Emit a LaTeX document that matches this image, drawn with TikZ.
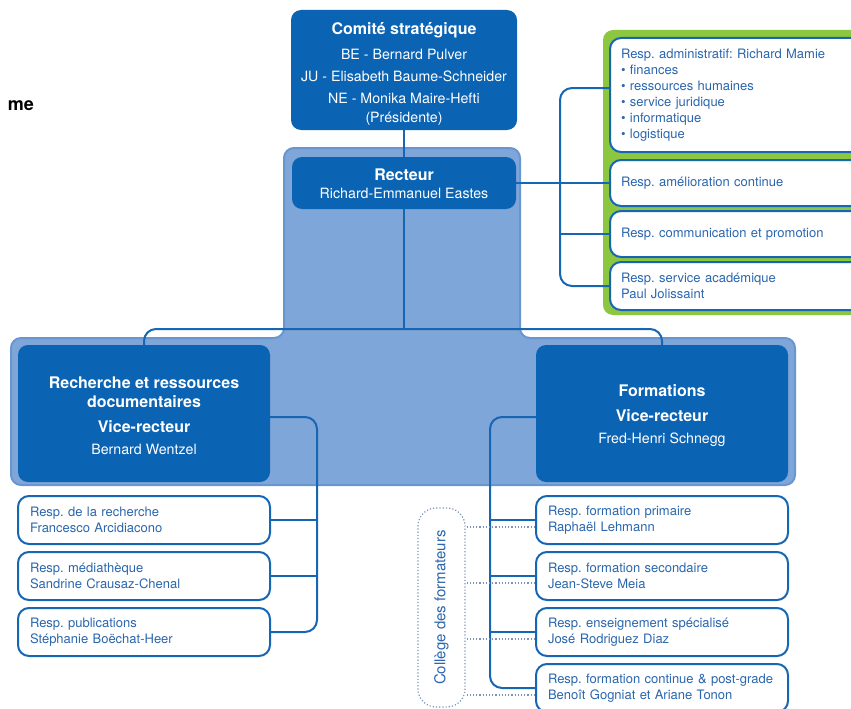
\documentclass[tikz,border=0pt]{standalone}
\usepackage{fontspec}
\setmainfont{TeX Gyre Heros}
\usetikzlibrary{positioning}
\frenchspacing

\definecolor{dblue}{HTML}{0B63B3}
\definecolor{panel}{HTML}{7EA6D8}
\definecolor{panelrim}{HTML}{6A96D0}
\definecolor{lgreen}{HTML}{8DC63F}
\definecolor{lineblue}{HTML}{1766B4}
\definecolor{tblue}{HTML}{2A66AE}
\definecolor{dotgray}{HTML}{7D93B8}

\newcommand{\ftitle}{\fontsize{16}{19}\selectfont\bfseries}
\newcommand{\fname}{\fontsize{14.2}{22}\selectfont}
\newcommand{\fresp}{\fontsize{13}{16}\selectfont}

\tikzset{
  darkbox/.style={fill=dblue, rounded corners=10pt, text=white, align=center, inner sep=0pt, font=\fname},
  respbox/.style={draw=lineblue, line width=2pt, fill=white, rounded corners=11pt, text=tblue,
    align=left, font=\fresp, inner ysep=0pt},
  leftresp/.style={respbox, text width=228pt, inner xsep=12pt, minimum height=48pt},
  greenresp/.style={respbox, text width=241pt, inner xsep=11pt},
  conn/.style={draw=lineblue, line width=2pt},
  dotline/.style={draw=dotgray, line width=1.2pt, dotted},
  college/.style={draw=dotgray, line width=1.2pt, dotted, rounded corners=18pt}
}

\begin{document}
\begin{tikzpicture}[x=1pt, y=-1pt]

\useasboundingbox (0,0) rectangle (851,709);
\clip (0,0) rectangle (851,709);

% Panels
\filldraw[fill=panel, draw=panelrim, line width=2pt, rounded corners=10pt]
  (284,148) -- (520,148) -- (520,338) -- (795,338) -- (795,485) -- (11,485) -- (11,338) -- (284,338) -- cycle;
\fill[lgreen, rounded corners=10pt] (603,30) rectangle (880,315);

% Heading
\node[font=\fontsize{18}{18}\selectfont\bfseries] (heading) at (21,106) {me};

% Direction
\node[darkbox, minimum width=226pt, minimum height=120pt] (comite) at (404,70)
  {{\ftitle\rule{0pt}{20pt}Comité stratégique}\\[3pt] BE - Bernard Pulver\\ JU - Elisabeth Baume-Schneider\\
   NE - Monika Maire-Hefti\\[-3pt] (Présidente)};
\node[darkbox, minimum width=224pt, minimum height=52pt] (recteur) at (404,183)
  {{\ftitle\rule{0pt}{13pt}Recteur}\\[-4pt] Richard-Emmanuel Eastes};

% Vice-rectorats
\node[darkbox, minimum width=252pt, minimum height=137pt] (recherche) at (144,413.5)
  {{\ftitle\rule{0pt}{16pt}Recherche et ressources}\\[-3pt] {\ftitle documentaires}\\[3pt]
   {\ftitle Vice-recteur}\\ Bernard Wentzel};
\node[darkbox, minimum width=252pt, minimum height=137pt] (formations) at (662,413.5)
  {{\ftitle\rule{0pt}{17pt}Formations}\\[3pt] {\ftitle Vice-recteur}\\ Fred-Henri Schnegg};

% Staff of the rector
\node[greenresp, minimum height=114pt] (admin) at (741.5,95)
  {Resp. administratif: Richard Mamie\\ \textbullet\ finances\\ \textbullet\ ressources humaines\\
   \textbullet\ service juridique\\ \textbullet\ informatique\\ \textbullet\ logistique};
\node[greenresp, minimum height=46pt] (amelio) at (741.5,183) {Resp. amélioration continue};
\node[greenresp, minimum height=46pt] (comm) at (741.5,234) {Resp. communication et promotion};
\node[greenresp, minimum height=48pt] (service) at (741.5,286) {Resp. service académique\\ Paul Jolissaint};

% Research staff
\node[leftresp] (rresp) at (144,520) {Resp. de la recherche\\ Francesco Arcidiacono};
\node[leftresp] (media) at (144,576) {Resp. médiathèque\\ Sandrine Crausaz-Chenal};
\node[leftresp] (pub) at (144,632) {Resp. publications\\ Stéphanie Boëchat-Heer};

% Training staff
\node[leftresp] (fprim) at (662,520) {Resp. formation primaire\\ Raphaël Lehmann};
\node[leftresp] (fsec) at (662,576) {Resp. formation secondaire\\ Jean-Steve Meia};
\node[leftresp] (fspec) at (662,632) {Resp. enseignement spécialisé\\ José Rodriguez Diaz};
\node[leftresp] (fcont) at (662,688)
  {Resp. formation continue \& post-grade\\ Benoît Gogniat et Ariane Tonon};

\node[college, minimum width=47pt, minimum height=199pt,
  label={[rotate=90, text=tblue, font=\fontsize{15}{15}\selectfont]center:Collège des formateurs}]
  (college) at (441.5,607.5) {};

% Bus points
\coordinate (bus) at (404,329);
\coordinate (rbus) at (560,183);
\coordinate (lbus) at (317,520);
\coordinate (fbus) at (490,520);

% Connectors
\draw[conn] (comite) -- (recteur);
\draw[conn] (recteur) -- (bus);
\draw[conn, rounded corners=12pt] (recherche.north) |- (bus) -| (formations.north);

\draw[conn] (recteur) -- (amelio);
\draw[conn, rounded corners=12pt] ([yshift=7pt]admin.west) -| (rbus) |- (service.west);
\draw[conn] (rbus |- comm.west) -- (comm.west);

\draw[conn, rounded corners=12pt] ([yshift=-3.5pt]recherche.east) -| (lbus) |- (pub.east);
\draw[conn] (lbus) -- (rresp.east);
\draw[conn] (lbus |- media.east) -- (media.east);

\draw[conn, rounded corners=12pt] ([yshift=-3.5pt]formations.west) -| (fbus) |- (fcont.west);
\draw[conn] (fbus) -- (fprim.west);
\draw[conn] (fbus |- fsec.west) -- (fsec.west);
\draw[conn] (fbus |- fspec.west) -- (fspec.west);

% Dotted links to the college
\foreach \n in {fprim,fsec,fspec,fcont}{
  \path ([yshift=-7pt]\n.west) coordinate (d);
  \draw[dotline] (d) -- (d -| college.east);
}

\end{tikzpicture}
\end{document}
